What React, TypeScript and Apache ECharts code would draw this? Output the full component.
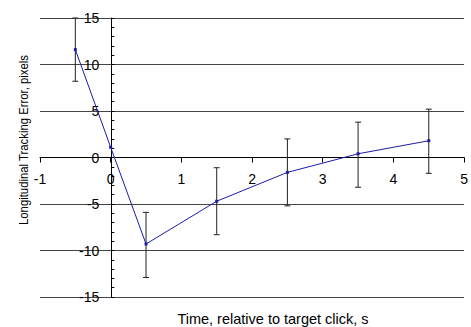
import React, { useEffect, useRef } from "react";
import * as echarts from "echarts";

// Time relative to target click (s) and mean longitudinal tracking error (pixels)
const times = [-0.5, 0, 0.5, 1.5, 2.5, 3.5, 4.5];
const meanError = [11.6, 1.1, -9.3, -4.7, -1.6, 0.4, 1.8];
// Error bar extents (upper / lower), null where no bar is drawn
const upperError: (number | null)[] = [15.0, null, -5.9, -1.1, 2.0, 3.8, 5.2];
const lowerError: (number | null)[] = [8.2, null, -12.9, -8.3, -5.2, -3.2, -1.7];

const xTicks = [-1, 0, 1, 2, 3, 4, 5];
const yTicks = [-15, -10, -5, 0, 5, 10, 15];

const xTitle = "Time, relative to target click, s";
const yTitle = "Longitudinal Tracking Error, pixels";

const FONT = "Liberation Sans, Arial, sans-serif";

const GRID = { left: 40, right: 3, top: 18, bottom: 30 };
const W = 471;
const H = 327;

export default function App() {
  const ref = useRef<HTMLDivElement>(null);

  useEffect(() => {
    if (!ref.current) return;
    const chart = echarts.init(ref.current, undefined, { renderer: "svg" });

    const xMin = xTicks[0];
    const xMax = xTicks[xTicks.length - 1];
    const yMin = yTicks[0];
    const yMax = yTicks[yTicks.length - 1];

    // Both axes cross at zero: shift each axis (line, ticks and labels) inward to the origin
    const plotW = W - GRID.left - GRID.right;
    const plotH = H - GRID.top - GRID.bottom;
    const yAxisOffset = -((0 - xMin) / (xMax - xMin)) * plotW;
    const xAxisOffset = -((0 - yMin) / (yMax - yMin)) * plotH;

    const barData = times
      .map((t, i) => [t, lowerError[i], upperError[i]])
      .filter((d) => d[1] !== null && d[2] !== null);

    chart.setOption({
      animation: false,
      backgroundColor: "#ffffff",
      grid: GRID,
      xAxis: {
        type: "value",
        min: xMin,
        max: xMax,
        interval: 1,
        position: "bottom",
        offset: xAxisOffset,
        axisLine: { onZero: false, lineStyle: { color: "#000", width: 1 } },
        axisTick: { show: true, length: 5, lineStyle: { color: "#000" } },
        axisLabel: {
          margin: 14,
          fontFamily: FONT,
          fontSize: 14,
          color: "#000",
          showMinLabel: true,
          showMaxLabel: true,
        },
        splitLine: { show: false },
      },
      yAxis: {
        type: "value",
        min: yMin,
        max: yMax,
        interval: 5,
        position: "left",
        offset: yAxisOffset,
        axisLine: { show: true, onZero: false, lineStyle: { color: "#000", width: 1 } },
        axisTick: { show: true, inside: true, length: 3, lineStyle: { color: "#000" } },
        minorTick: { show: true, splitNumber: 5, length: 3, lineStyle: { color: "#000" } },
        axisLabel: {
          margin: 12,
          fontFamily: FONT,
          fontSize: 14,
          color: "#000",
          showMinLabel: true,
          showMaxLabel: true,
        },
        splitLine: { show: true, lineStyle: { color: "#444", width: 1 } },
      },
      graphic: [
        {
          type: "text",
          x: 273,
          y: 319,
          style: {
            text: xTitle,
            fontFamily: FONT,
            fontSize: 14.5,
            fill: "#000",
            textAlign: "center",
            textVerticalAlign: "middle",
          },
        },
        {
          type: "text",
          x: 24,
          y: 140,
          rotation: Math.PI / 2,
          scaleX: 0.84,
          style: {
            text: yTitle,
            fontFamily: FONT,
            fontSize: 13.5,
            fill: "#000",
            textAlign: "center",
            textVerticalAlign: "middle",
          },
        },
      ],
      series: [
        {
          type: "custom",
          data: barData,
          clip: false,
          z: 3,
          renderItem: (params: any, api: any) => {
            const x = api.value(0);
            const lo = api.coord([x, api.value(1)]);
            const hi = api.coord([x, api.value(2)]);
            const half = 3;
            const style = { stroke: "#222", lineWidth: 1, fill: "none" };
            return {
              type: "group",
              children: [
                { type: "line", shape: { x1: hi[0], y1: hi[1], x2: lo[0], y2: lo[1] }, style },
                { type: "line", shape: { x1: hi[0] - half, y1: hi[1], x2: hi[0] + half, y2: hi[1] }, style },
                { type: "line", shape: { x1: lo[0] - half, y1: lo[1], x2: lo[0] + half, y2: lo[1] }, style },
              ],
            };
          },
        },
        {
          type: "line",
          data: times.map((t, i) => [t, meanError[i]]),
          symbol: "rect",
          symbolSize: 3,
          z: 4,
          lineStyle: { color: "#1c1ca8", width: 1 },
          itemStyle: { color: "#1c1ca8" },
        },
      ],
    });

    return () => chart.dispose();
  }, []);

  return <div ref={ref} style={{ width: W, height: H, position: "absolute", left: 0, top: 0 }} />;
}
